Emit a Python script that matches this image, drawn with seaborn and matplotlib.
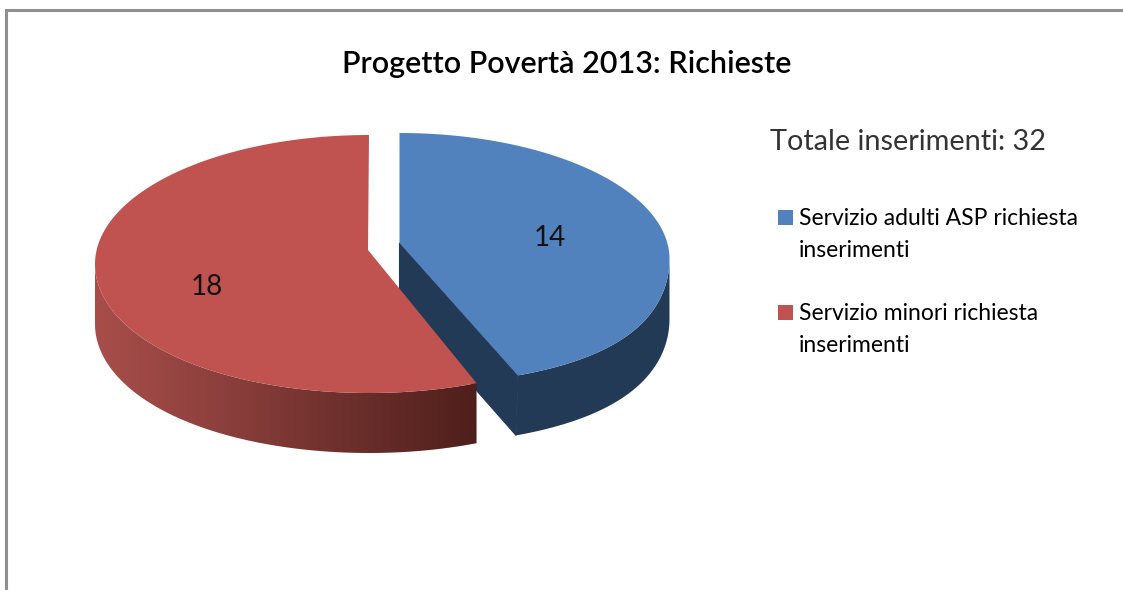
import numpy as np
import matplotlib
matplotlib.use("Agg")
import matplotlib.pyplot as plt
from matplotlib.patches import Polygon, Rectangle
import seaborn as sns

sns.set_theme(style="white")
plt.rcParams['font.family'] = ['Lato', 'DejaVu Sans']

# data
categories = ["Servizio adulti ASP richiesta\ninserimenti", "Servizio minori richiesta\ninserimenti"]
values = [14, 18]
title = "Progetto Povertà 2013: Richieste"
subtitle = "Totale inserimenti: 32"

top_colors = sns.color_palette(["#5182bd", "#c0534f"])
blue_side = "#223a56"
red_side = sns.blend_palette(["#a84e4a", "#8c3f3c", "#6c2f2c", "#4f1f1b"], 256)

fig = plt.figure(figsize=(11.23, 5.90), dpi=100)
ax = fig.add_axes([0, 0, 1, 1])
ax.set_xlim(0, 1123)
ax.set_ylim(590, 0)
ax.axis("off")

# chart frame, cut by the image on the right and bottom
ax.plot([6, 6, 1123], [590, 10, 10], color="#8f8f8f", lw=2.2, solid_joinstyle="miter")

depth = 60
total = sum(values)
split = 360 * values[0] / total


def rim(t_from, t_to, cx, cy, rx, ry, persp):
    t = np.radians(np.linspace(t_from, t_to, 200))
    grow = 1 + persp * np.clip(-np.cos(t), 0, None) ** 2
    return np.column_stack([cx + rx * np.sin(t) * grow, cy - ry * np.cos(t)])


# ---------------- BLUE SLICE ----------------
blue_apex = (399.5, 243)
blue_arc = rim(0, split, 399.5, 259, 270, 126, 0.17)
blue_low = rim(90, split, 399.5, 259 + depth, 270, 126, 0.15)
blue_top_part = rim(90, split, 399.5, 259, 270, 126, 0.17)
ax.add_patch(Polygon(np.vstack([blue_top_part, blue_low[::-1]]), fc=blue_side, ec="none", lw=0))
ax.add_patch(Polygon(np.vstack([blue_low[-1:], [(blue_apex[0], blue_apex[1] + depth)], [blue_apex], blue_arc[-1:]]),
                     fc=blue_side, ec=blue_side, lw=0.8))
ax.add_patch(Polygon(np.vstack([[blue_apex], blue_arc]), color=top_colors[0], lw=0))

# ---------------- RED SLICE ----------------
red_apex = (368, 250)
red_arc = rim(split, 360, 369, 264, 274, 129, 0.03)
red_front = rim(split, 270, 369, 264, 274, 129, 0.03)
side = np.vstack([red_front, red_front[::-1] + [0, depth]])
clip = Polygon(side, transform=ax.transData, lw=0, fc="none")
ax.add_patch(clip)
im = ax.imshow(np.linspace(0, 1, 256)[None, :], extent=(95, 478, 453, 260), aspect="auto",
               cmap=matplotlib.colors.ListedColormap(red_side), zorder=2)
im.set_clip_path(clip)
ax.set_xlim(0, 1123)
ax.set_ylim(590, 0)
ax.add_patch(Polygon(np.vstack([[red_apex], red_arc]), color=top_colors[1], lw=0, zorder=3))

# ---------------- TEXT ----------------
ax.text(567, 64, title, ha="center", va="center", fontsize=22, color="black", weight="semibold")
ax.text(770, 142, subtitle, ha="left", va="center", fontsize=20.8, color="#333333")
ax.text(550, 238, str(values[0]), ha="center", va="center", fontsize=20, color="#111111", zorder=4)
ax.text(207, 287, str(values[1]), ha="center", va="center", fontsize=20, color="#111111", zorder=4)

# ---------------- LEGEND ----------------
for label, color, y in zip(categories, top_colors, [208, 303]):
    ax.add_patch(Rectangle((778, y + 2), 15, 15, color=color, lw=0))
    ax.text(799, y, label, ha="left", va="top", fontsize=16.5, color="black", linespacing=1.62)

fig.savefig("out.png", dpi=100)
